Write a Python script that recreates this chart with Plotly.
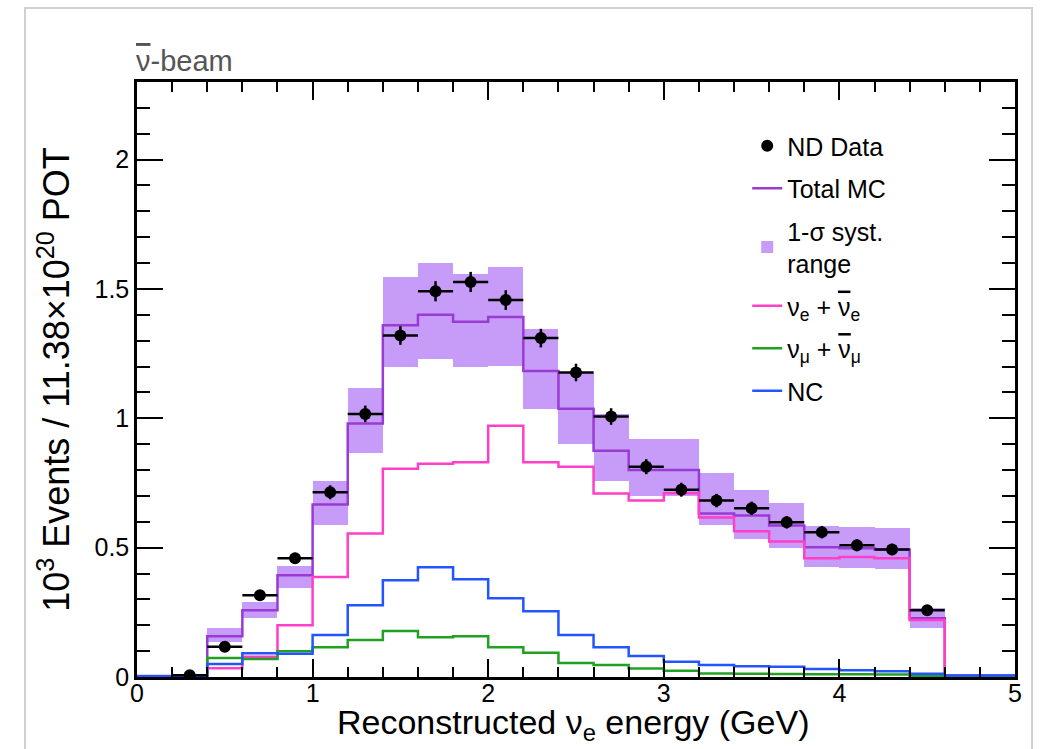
import plotly.graph_objects as go

# ---- data ----
bin_edges = [0.0, 0.2, 0.4, 0.6, 0.8, 1.0, 1.2, 1.4, 1.6, 1.8, 2.0, 2.2, 2.4, 2.6,
             2.8, 3.0, 3.2, 3.4, 3.6, 3.8, 4.0, 4.2, 4.4, 4.6, 4.8, 5.0]

total_mc = [0.004, 0.004, 0.158, 0.258, 0.393, 0.667, 0.98, 1.36, 1.40, 1.373, 1.392,
            1.183, 1.037, 0.875, 0.80, 0.80, 0.632, 0.624, 0.586, 0.502, 0.498, 0.493,
            0.227, 0.006, 0.006]
nue = [0.0, 0.0, 0.034, 0.078, 0.20, 0.387, 0.555, 0.805, 0.824, 0.83, 0.971, 0.83,
       0.813, 0.709, 0.682, 0.71, 0.617, 0.563, 0.524, 0.459, 0.464, 0.459, 0.22, 0.0, 0.0]
numu = [0.002, 0.002, 0.073, 0.07, 0.10, 0.115, 0.143, 0.178, 0.154, 0.158, 0.115, 0.094,
        0.054, 0.046, 0.033, 0.024, 0.014, 0.013, 0.012, 0.011, 0.011, 0.01, 0.004, 0.002, 0.002]
nc = [0.003, 0.003, 0.05, 0.092, 0.09, 0.162, 0.277, 0.374, 0.424, 0.378, 0.304, 0.254,
      0.162, 0.115, 0.081, 0.059, 0.046, 0.042, 0.04, 0.031, 0.026, 0.022, 0.013, 0.006, 0.006]

# systematic band (bins 0.4 - 4.6)
band_centers = [0.5, 0.7, 0.9, 1.1, 1.3, 1.5, 1.7, 1.9, 2.1, 2.3, 2.5, 2.7, 2.9, 3.1,
                3.3, 3.5, 3.7, 3.9, 4.1, 4.3, 4.5]
band_lo = [0.136, 0.227, 0.343, 0.586, 0.864, 1.198, 1.229, 1.198, 1.202, 1.037, 0.90,
           0.759, 0.70, 0.70, 0.586, 0.535, 0.497, 0.425, 0.42, 0.416, 0.189]
band_hi = [0.189, 0.29, 0.43, 0.759, 1.117, 1.545, 1.60, 1.556, 1.584, 1.345, 1.18,
           1.017, 0.92, 0.92, 0.787, 0.724, 0.672, 0.582, 0.58, 0.575, 0.266]

# ND data
data_x = [0.3, 0.5, 0.7, 0.9, 1.1, 1.3, 1.5, 1.7, 1.9, 2.1, 2.3, 2.5, 2.7, 2.9, 3.1,
          3.3, 3.5, 3.7, 3.9, 4.1, 4.3, 4.5]
data_y = [0.007, 0.117, 0.316, 0.459, 0.714, 1.017, 1.32, 1.491, 1.527, 1.457, 1.31,
          1.177, 1.007, 0.813, 0.724, 0.682, 0.652, 0.598, 0.56, 0.509, 0.493, 0.258]
data_err = [0.008, 0.012, 0.018, 0.021, 0.027, 0.032, 0.036, 0.039, 0.039, 0.038, 0.036,
            0.034, 0.032, 0.029, 0.027, 0.026, 0.026, 0.024, 0.024, 0.023, 0.022, 0.016]

FONT = "Liberation Sans, Arial, Helvetica, sans-serif"
C_MC = "#9a3ad4"
C_BAND = "#c69cf8"
C_NUE = "#ff3fc8"
C_NUMU = "#22a022"
C_NC = "#2255ff"
NUBAR = '<span style="text-decoration:overline">ν</span>'


def step_y(vals):
    return list(vals) + [vals[-1]]


fig = go.Figure()

band_width = [bin_edges[i + 1] - bin_edges[i] for i in range(2, 23)]
fig.add_trace(go.Bar(
    x=band_centers, base=band_lo, y=[h - l for h, l in zip(band_hi, band_lo)],
    width=band_width, marker=dict(color=C_BAND, line=dict(width=0)),
    name="1-σ syst.<br>range", legendrank=3, legendgroup="g3"))

fig.add_trace(go.Scatter(x=bin_edges, y=step_y(total_mc), mode="lines", line_shape="hv",
                         line=dict(color=C_MC, width=2.5), name="Total MC",
                         legendrank=2, legendgroup="g2"))
fig.add_trace(go.Scatter(x=bin_edges, y=step_y(nue), mode="lines", line_shape="hv",
                         line=dict(color=C_NUE, width=2.5),
                         name="ν<sub>e</sub> + " + NUBAR + "<sub>e</sub>",
                         legendrank=4, legendgroup="g4"))
fig.add_trace(go.Scatter(x=bin_edges, y=step_y(numu), mode="lines", line_shape="hv",
                         line=dict(color=C_NUMU, width=2.5),
                         name="ν<sub>μ</sub> + " + NUBAR + "<sub>μ</sub>",
                         legendrank=5, legendgroup="g5"))
fig.add_trace(go.Scatter(x=bin_edges, y=step_y(nc), mode="lines", line_shape="hv",
                         line=dict(color=C_NC, width=2.5), name="NC",
                         legendrank=6, legendgroup="g6"))

fig.add_trace(go.Scatter(
    x=data_x, y=data_y, mode="markers", name="ND Data",
    marker=dict(color="black", size=12),
    error_x=dict(type="constant", value=0.1, width=0, thickness=2.5, color="black"),
    error_y=dict(type="data", array=data_err, width=0, thickness=2.5, color="black"),
    legendrank=1, legendgroup="g1"))

axis_common = dict(showline=True, linecolor="black", linewidth=2.5, mirror="ticks",
                   ticks="inside", tickcolor="black", tickwidth=2, showgrid=False,
                   zeroline=False, tickfont=dict(family=FONT, size=25, color="black"))

fig.update_layout(
    width=1040, height=749,
    margin=dict(l=137, r=25, t=82, b=72, autoexpand=False),
    paper_bgcolor="white", plot_bgcolor="white",
    bargap=0,
    showlegend=True,
    legend=dict(x=0.695, y=0.931, xanchor="left", yanchor="top",
                bgcolor="rgba(0,0,0,0)", font=dict(family=FONT, size=25, color="black"),
                traceorder="grouped", tracegroupgap=7, itemwidth=30),
    xaxis=dict(range=[0, 5], dtick=1, tick0=0, ticklen=18, ticklabelstandoff=-8,
               minor=dict(dtick=0.2, ticklen=10, ticks="inside", tickcolor="black",
                          tickwidth=2, showgrid=False),
               **axis_common),
    yaxis=dict(range=[0, 2.3], dtick=0.5, tick0=0, ticklen=26,
               minor=dict(dtick=0.1, ticklen=13, ticks="inside", tickcolor="black",
                          tickwidth=2, showgrid=False),
               title=dict(text="10<sup>3</sup> Events / 11.38×10<sup>20</sup> POT",
                          font=dict(family=FONT, size=36, color="black"), standoff=14),
               **axis_common),
    annotations=[
        dict(text=NUBAR + "-beam", xref="paper", yref="paper", x=-0.003, y=1.005,
             xanchor="left", yanchor="bottom", showarrow=False,
             font=dict(family=FONT, size=29, color="#555555")),
        dict(text="Reconstructed ν<sub>e</sub> energy (GeV)", xref="paper", yref="paper",
             x=0.497, y=-0.1176, xanchor="center", yanchor="bottom", showarrow=False,
             borderpad=0, font=dict(family=FONT, size=34, color="black")),
    ],
    shapes=[dict(type="rect", xref="paper", yref="paper",
                 x0=-0.1276, x1=1.0194, y0=-0.2, y1=1.1244,
                 line=dict(color="#d0d0d0", width=2), fillcolor="rgba(0,0,0,0)",
                 layer="below")],
)

fig.write_html("out.html")
